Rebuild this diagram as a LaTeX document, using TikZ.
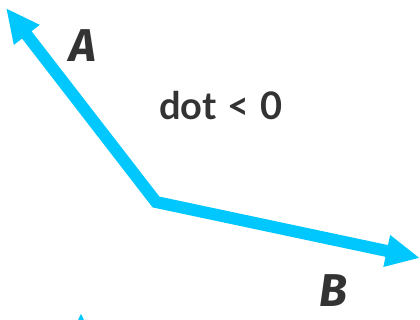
\documentclass[tikz,border=0pt]{standalone}
\usepackage{fontspec}
\setmainfont{Lato}
\newfontfamily\letterfont{Fira Sans}
\usepackage{xcolor}
\usetikzlibrary{arrows.meta, calc}

\definecolor{vecblue}{RGB}{0,200,255}
\definecolor{inkgray}{RGB}{51,51,51}

\begin{document}
\begin{tikzpicture}[x=1pt, y=1pt,
    vector/.style={line width=12pt, vecblue, line join=miter,
      {Triangle[length=34pt, width=30pt]}-{Triangle[length=34pt, width=30pt]}},
    letter/.style={inkgray, inner sep=0pt, font=\letterfont\bfseries\itshape\fontsize{46}{46}\selectfont},
    caption/.style={inkgray, inner sep=0pt, font=\bfseries\fontsize{38}{38}\selectfont}]
  \useasboundingbox (0,0) rectangle (420,320);
  \clip (0,0) rectangle (420,320);

  % ----- Points -----
  \coordinate (O) at (156,118);
  \coordinate (tipA) at (6,312);
  \coordinate (tipB) at (420,62);
  \coordinate (tipC) at (81,7);
  \coordinate (baseC) at (81,-60);

  % ----- Vectors -----
  \draw[vector] (tipA) -- (O) -- (tipB);
  \draw[vector, {}-{Triangle[length=34pt, width=30pt]}] (baseC) -- (tipC); % third vector, cut off below

  % ----- Labels -----
  \node[letter] (labelA) at (83,274) {A};
  \node[letter] (labelB) at (333,29) {B};
  \node[caption] (dotSign) at (221,214) {dot\hspace{11pt}<\hspace{11pt}0};
\end{tikzpicture}
\end{document}
